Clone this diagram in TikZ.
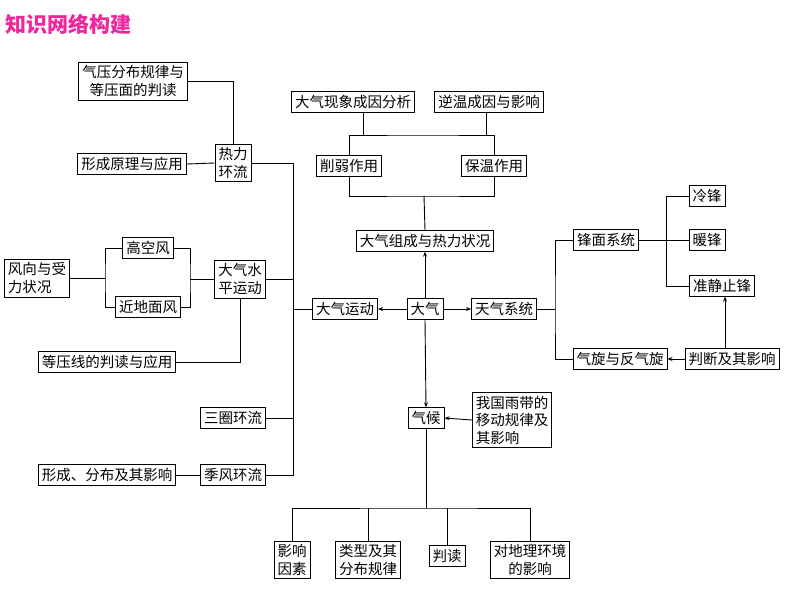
\documentclass[tikz,border=0pt]{standalone}
\usepackage{fontspec}
\setmainfont{Noto Sans CJK SC}
\usetikzlibrary{arrows.meta}
\begin{document}
\begin{tikzpicture}[x=1pt,y=-1pt,
  bx/.style={draw,line width=0.9pt,inner sep=3.5pt,align=center,font=\fontsize{14.5}{17.5}\selectfont},
  ln/.style={line width=0.9pt},
  ar/.style={line width=0.9pt,-{Stealth[length=5pt,width=4pt]}}]
\useasboundingbox (0,0) rectangle (794,596);
\node[font=\fontsize{21}{24}\selectfont\bfseries,text=magenta!85!white,anchor=west] (title) at (2,24) {知识网络构建};
\node[bx] (qy) at (133,81) {气压分布规律与\\等压面的判读};
\node[bx] (xc) at (132,164) {形成原理与应用};
\node[bx] (rl) at (233,163) {热力\\环流};
\node[bx] (xx) at (353,102) {大气现象成因分析};
\node[bx] (nw) at (489,102) {逆温成因与影响};
\node[bx] (xr) at (349,166) {削弱作用};
\node[bx] (bw) at (494,166) {保温作用};
\node[bx] (zc) at (425,241) {大气组成与热力状况};
\node[bx] (dq) at (425,309) {大气};
\node[bx] (yd) at (345,309) {大气运动};
\node[bx] (tq) at (504,309) {天气系统};
\node[bx] (qh) at (426,418) {气候};
\node[bx,align=left] (yu) at (512,420) {我国雨带的\\移动规律及\\其影响};
\node[bx] (fm) at (606,240) {锋面系统};
\node[bx] (lf) at (707,196) {冷锋};
\node[bx] (nf) at (707,240) {暖锋};
\node[bx] (zj) at (722,286) {准静止锋};
\node[bx] (qx) at (620,359) {气旋与反气旋};
\node[bx] (pd) at (732,359) {判断及其影响};
\node[bx,align=left] (fx) at (37,278) {风向与受\\力状况};
\node[bx] (gk) at (148,248) {高空风};
\node[bx] (jd) at (148,307) {近地面风};
\node[bx] (sp) at (240,279) {大气水\\平运动};
\node[bx] (dy) at (107,362) {等压线的判读与应用};
\node[bx] (sq) at (233,418) {三圈环流};
\node[bx] (jf) at (233,475) {季风环流};
\node[bx] (xf) at (107,475) {形成、分布及其影响};
\node[bx] (yx) at (292,560) {影响\\因素};
\node[bx] (lx) at (368,560) {类型及其\\分布规律};
\node[bx] (pdu) at (447,556) {判读};
\node[bx] (dl) at (530,560) {对地理环境\\的影响};
% left trunk
\coordinate (t1) at (293,163);
\coordinate (t2) at (293,475);
\draw[ln] (qy.east) -| (rl.north);
\draw[ln] (xc.east) -- (rl.west);
\draw[ln] (rl.east) -- (t1) -- (t2) -- (jf.east);
\draw[ln] (sp.east) -- (sp.east -| t1);
\draw[ln] (yd.west) -- (yd.west -| t1);
\draw[ln] (sq.east) -- (sq.east -| t1);
\draw[ln] (xf.east) -- (jf.west);
% wind
\coordinate (w1) at (105,278);
\coordinate (w2) at (190,279);
\draw[ln] (fx.east) -- (w1);
\draw[ln] (gk.west) -| (w1) |- (jd.west);
\draw[ln] (gk.east) -| (w2) |- (jd.east);
\draw[ln] (w2) -- (sp.west);
\draw[ln] (dy.east) -| (sp.south);
% top
\coordinate (h1) at (424,135);
\coordinate (h2) at (424,196);
\draw[ln] (xr.north) |- (h1) -| (bw.north);
\draw[ln] (xx.south -| 363,0) -- (363,135);
\draw[ln] (nw.south -| 486,0) -- (486,135);
\draw[ln] (xr.south) |- (h2) -| (bw.south);
\draw[ln] (h2) -- (zc.north);
% centre arrows
\draw[ar] (dq.north) -- (zc.south);
\draw[ar] (dq.west) -- (yd.east);
\draw[ar] (dq.east) -- (tq.west);
\draw[ar] (dq.south) -- (qh.north);
\draw[ar] (yu.west) -- (qh.east);
% weather
\coordinate (r1) at (555,309);
\draw[ln] (tq.east) -- (r1);
\draw[ln] (fm.west) -| (r1) |- (qx.west);
\coordinate (r2) at (666,240);
\draw[ln] (fm.east) -- (nf.west);
\draw[ln] (lf.west) -| (r2) |- (zj.west);
\draw[ar] (pd.west) -- (qx.east);
\draw[ar] (pd.north -| 725,0) -- (zj.south -| 725,0);
% bottom
\coordinate (b0) at (426,508);
\draw[ln] (qh.south) -- (b0);
\draw[ln] (yx.north) |- (b0) -| (dl.north);
\draw[ln] (lx.north) -- (lx.north |- b0);
\draw[ln] (pdu.north) -- (pdu.north |- b0);
\end{tikzpicture}
\end{document}
